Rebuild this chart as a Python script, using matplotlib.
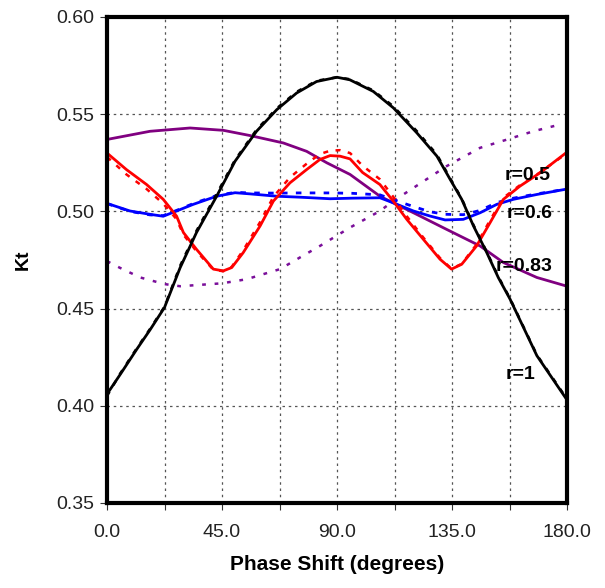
import matplotlib
matplotlib.use("Agg")
import matplotlib.pyplot as plt
import numpy as np

plt.rcParams['font.family'] = ['Liberation Sans', 'DejaVu Sans']

# r = 1 (black)
x_k = [0, 5.1, 11.6, 16.8, 22.5, 28.6, 35, 42.9, 50.1, 58.5, 66.4, 74.2, 82, 90, 95, 104.2,
       112.1, 121.3, 129.1, 134.3, 138.8, 143.4, 148.6, 153.1, 157.7, 168.2, 180]
k_solid = [0.406, 0.416, 0.429, 0.439, 0.4506, 0.471, 0.4891, 0.5078, 0.5258, 0.5412, 0.5523,
           0.5609, 0.5668, 0.569, 0.5677, 0.5617, 0.5532, 0.5403, 0.5284, 0.5164, 0.5062, 0.4925,
           0.4788, 0.466, 0.4549, 0.4258, 0.403]
k_dot = [0.405, 0.4165, 0.4295, 0.4395, 0.4510, 0.4720, 0.4900, 0.5090, 0.5265, 0.5420, 0.5530,
         0.5615, 0.5672, 0.5690, 0.5680, 0.5622, 0.5540, 0.5412, 0.5292, 0.5170, 0.5066, 0.4930,
         0.4792, 0.4665, 0.4552, 0.4262, 0.4035]

# r = 0.5 (red)
x_r = [0, 7.6, 15.5, 22, 27.2, 29.9, 35, 41.6, 45.5, 48.8, 53.3, 59.9, 65.1, 71.6, 78.1, 83.3,
       87.3, 91.2, 95.1, 100, 106.8, 112, 117.3, 123.8, 130.3, 134.8, 138.8, 144.6, 149.9, 155.1,
       161.6, 169.4, 180]
r_solid = [0.530, 0.5215, 0.5138, 0.5062, 0.4976, 0.4891, 0.4805, 0.4703, 0.4694, 0.4711, 0.4788,
           0.4925, 0.5053, 0.5147, 0.5215, 0.5267, 0.5287, 0.5284, 0.527, 0.520, 0.5138, 0.5053,
           0.4959, 0.4856, 0.4754, 0.4703, 0.4728, 0.4822, 0.4942, 0.5062, 0.513, 0.5198, 0.5305]
r_dot = [0.528, 0.5190, 0.5115, 0.5040, 0.4960, 0.4880, 0.4795, 0.4700, 0.4692, 0.4715, 0.4800,
         0.4945, 0.5075, 0.5175, 0.5245, 0.5295, 0.5312, 0.5315, 0.5300, 0.5235, 0.5165, 0.5075,
         0.4975, 0.4865, 0.4760, 0.4705, 0.4730, 0.4830, 0.4955, 0.5070, 0.5135, 0.5200, 0.5300]

# r = 0.6 (blue)
x_b = [0, 9, 16.8, 22, 27.2, 33.7, 42.9, 50.1, 56, 66.4, 75.5, 87.3, 96, 106.8, 112, 119.9,
       126.4, 132.3, 139.4, 146, 152.5, 159, 168.2, 180]
b_solid = [0.5041, 0.5002, 0.4985, 0.4975, 0.5002, 0.5036, 0.5078, 0.5096, 0.509, 0.5078, 0.5073,
           0.5065, 0.5068, 0.507, 0.5044, 0.5002, 0.4976, 0.4956, 0.4959, 0.4993, 0.5036, 0.5062,
           0.5087, 0.5115]
b_dot = [0.5040, 0.5000, 0.4982, 0.4978, 0.5005, 0.5040, 0.5082, 0.5098, 0.5095, 0.5094, 0.5095,
         0.5095, 0.5093, 0.5085, 0.5060, 0.5025, 0.4998, 0.4985, 0.4983, 0.5005, 0.5045, 0.5068,
         0.5090, 0.5115]

# r = 0.83 (purple)
x_p = [0, 16.8, 32.5, 45.5, 56, 69, 78.1, 86, 95.1, 106.8, 112, 119.9, 132.8, 146, 155.1, 168.2, 180]
p_solid = [0.537, 0.5412, 0.5429, 0.5417, 0.539, 0.5352, 0.5309, 0.525, 0.519, 0.5078, 0.5044,
           0.4993, 0.4908, 0.4822, 0.4737, 0.466, 0.4615]
x_pd = [0, 5, 13, 22.5, 28.6, 45, 54.6, 67.7, 75.5, 83.3, 95.1, 106.8, 112, 119.9, 132.8, 146,
        156.4, 166.8, 177]
p_dot = [0.4744, 0.471, 0.466, 0.4626, 0.4615, 0.463, 0.4651, 0.4703, 0.4763, 0.4822, 0.4917,
         0.5002, 0.5053, 0.5121, 0.5232, 0.5327, 0.5369, 0.5412, 0.5446]

labels = ['r=0.5', 'r=0.6', 'r=0.83', 'r=1']
label_x = [164.5, 165.5, 163.2, 161.8]
label_y = [0.5185, 0.4990, 0.4715, 0.4162]

fig = plt.figure(figsize=(6.05, 5.88), dpi=100)
ax = fig.add_axes([0.1769, 0.1446, 0.7603, 0.8265])

ax.plot(x_pd, p_dot, color='#7a0f9a', lw=1.8, ls=(0, (1.5, 3.5)))
ax.plot(x_p, p_solid, color='#800080', lw=2)
ax.plot(x_b, b_dot, color='blue', lw=2, ls=(0, (2, 3)))
ax.plot(x_b, b_solid, color='blue', lw=2)
ax.plot(x_r, r_dot, color='red', lw=1.8, ls=(0, (2, 3)))
ax.plot(x_r, r_solid, color='red', lw=2)
ax.plot(x_k, k_dot, color='black', lw=1.8, ls=(0, (2, 3)))
ax.plot(x_k, k_solid, color='black', lw=2)

for lab, lx, ly in zip(labels, label_x, label_y):
    ax.text(lx, ly, lab, fontsize=14, fontweight='bold', ha='center', va='center')

ax.set_xlim(0, 180)
ax.set_ylim(0.35, 0.60)
ax.set_xticks([0, 45, 90, 135, 180])
ax.set_xticklabels(['0.0', '45.0', '90.0', '135.0', '180.0'])
ax.set_xticks([22.5, 67.5, 112.5, 157.5], minor=True)
ax.set_yticks([0.35, 0.40, 0.45, 0.50, 0.55, 0.60])
ax.set_yticklabels(['0.35', '0.40', '0.45', '0.50', '0.55', '0.60'])
ax.grid(True, which='both', color='#555555', ls=(0, (2, 3)), lw=0.9)
ax.tick_params(axis='both', which='both', labelsize=14, colors='#333333', length=5,
               width=0.8, pad=4, labelcolor='#222222')
ax.tick_params(axis='x', which='both', pad=10)
for s in ax.spines.values():
    s.set_linewidth(3)
    s.set_color('black')

ax.set_xlabel('Phase Shift (degrees)', fontsize=15, fontweight='bold', labelpad=10)
ax.set_ylabel('Kt', fontsize=14, fontweight='bold', labelpad=18)

fig.savefig('out.png', dpi=100)
